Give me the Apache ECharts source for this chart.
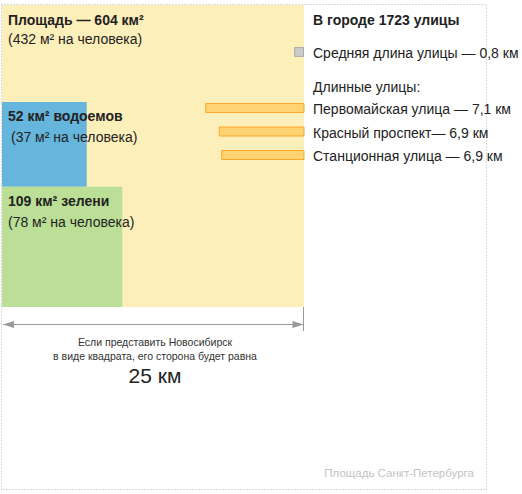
<!DOCTYPE html>
<html>
<head>
<meta charset="utf-8">
<script src="https://cdn.jsdelivr.net/npm/echarts@6/dist/echarts.min.js"></script>
<style>
html, body { margin: 0; padding: 0; background: #fff; }
#chart { width: 522px; height: 494px; }
</style>
</head>
<body>
<div id="chart"></div>
<script>
// площади: город, водоемы, зелень
var zoneNames = ['Площадь', 'водоемов', 'зелени'];
var zoneArea = [604, 52, 109];          // км²
var zonePerPerson = [432, 37, 78];      // м² на человека
var zoneSideKm = [24.6, 6.9, 9.8];      // сторона квадрата на картинке, км
var zoneColors = ['#fdefb9', '#66b5dc', '#bcdf97'];

var spbName = 'Площадь Санкт-Петербурга';
var spbSideKm = 39.5;
var citySide = 25;                      // км, подпись

var streetsTotal = 1723;
var avgStreetKm = 0.8;
var streetNames = ['Первомайская улица —', 'Красный проспект—', 'Станционная улица —'];
var streetKm = [7.1, 6.9, 6.9];
var streetBarKm = [8.0, 6.9, 6.7];      // длина полосы как на картинке

var FONT = '"Liberation Sans", Arial, sans-serif';
var PX = 302 / zoneSideKm[0];           // пикселей на км

// квадраты: город сверху слева, зелень внизу, водоемы над ней
var zoneData = [[0, 0, zoneSideKm[0], zoneSideKm[0]]];
var bottom = zoneSideKm[0];
for (var i = zoneSideKm.length - 1; i >= 1; i--) {
    zoneData[i] = [0, bottom - zoneSideKm[i], zoneSideKm[i], bottom];
    bottom -= zoneSideKm[i];
}

function renderSpb(params, api) {
    var p0 = api.coord([api.value(0), api.value(0)]);
    var p1 = api.coord([api.value(1), api.value(1)]);
    return {
        type: 'group',
        children: [{
            type: 'rect',
            shape: { x: Math.round(p0[0]) + 0.5, y: Math.round(p0[1]) + 0.5, width: Math.round(p1[0] - p0[0]), height: Math.round(p1[1] - p0[1]) },
            style: { fill: 'none', stroke: '#b4b4b4', lineWidth: 1, lineDash: [1, 2] }
        }, {
            type: 'text',
            x: p1[0] - 12, y: p1[1] - 16,
            style: { text: spbName, font: '11.5px ' + FONT, fill: '#c3c3c3', align: 'right', verticalAlign: 'middle' }
        }]
    };
}

function renderZone(params, api) {
    var i = params.dataIndex;
    var p0 = api.coord([api.value(0), api.value(1)]);
    var p1 = api.coord([api.value(2), api.value(3)]);
    var title = i === 0
        ? zoneNames[0] + ' — ' + zoneArea[0] + ' км²'
        : zoneArea[i] + ' км² ' + zoneNames[i];
    return {
        type: 'group',
        children: [{
            type: 'rect',
            shape: { x: p0[0], y: p0[1], width: p1[0] - p0[0], height: p1[1] - p0[1] },
            style: { fill: zoneColors[i] }
        }, {
            type: 'text',
            x: p0[0] + 6, y: p0[1] + 14.5,
            style: { text: title, font: 'bold 14px ' + FONT, fill: '#222', verticalAlign: 'middle' }
        }, {
            type: 'text',
            x: p0[0] + (i === 1 ? 9 : 6), y: p0[1] + (i === 0 ? 34 : 35.5),
            style: { text: '(' + zonePerPerson[i] + ' м² на человека)', font: '14px ' + FONT, fill: '#222', verticalAlign: 'middle' }
        }]
    };
}

function renderStreet(params, api) {
    var i = params.dataIndex;
    var right = api.coord([zoneSideKm[0], 0])[0];
    var left = api.coord([zoneSideKm[0] - api.value(0), 0])[0];
    var y = 108 + i * 23.5;
    return {
        type: 'group',
        children: [{
            type: 'rect',
            shape: { x: left, y: y - 4.5, width: right - left, height: 9 },
            style: { fill: '#ffd372', stroke: '#f8a72c', lineWidth: 1 }
        }, {
            type: 'text',
            x: right + 9, y: y + 1,
            style: { text: streetNames[i] + ' ' + String(streetKm[i]).replace('.', ',') + ' км', font: '14px ' + FONT, fill: '#222', verticalAlign: 'middle' }
        }]
    };
}

function renderAvg(params, api) {
    var right = api.coord([zoneSideKm[0], 0])[0];
    var left = api.coord([zoneSideKm[0] - api.value(0), 0])[0];
    var y = 52;
    var s = right - left;
    return {
        type: 'group',
        children: [{
            type: 'rect',
            shape: { x: left + 0.5, y: y - s / 2 + 0.5, width: s - 1, height: s - 1 },
            style: { fill: '#cbcbcb', stroke: '#a9a9a9', lineWidth: 1 }
        }, {
            type: 'text',
            x: right + 9, y: y + 1,
            style: { text: 'Средняя длина улицы — ' + String(avgStreetKm).replace('.', ',') + ' км', font: '14px ' + FONT, fill: '#222', verticalAlign: 'middle' }
        }, {
            type: 'text',
            x: right + 9, y: 20,
            style: { text: 'В городе ' + streetsTotal + ' улицы', font: 'bold 14px ' + FONT, fill: '#222', verticalAlign: 'middle' }
        }, {
            type: 'text',
            x: right + 9, y: 87,
            style: { text: 'Длинные улицы:', font: '14px ' + FONT, fill: '#222', verticalAlign: 'middle' }
        }]
    };
}

function renderRuler(params, api) {
    var p0 = api.coord([0, zoneSideKm[0]]);
    var p1 = api.coord([zoneSideKm[0], zoneSideKm[0]]);
    var y = Math.round(p0[1] + 17) + 0.5;
    var x0 = p0[0] + 1, x1 = Math.round(p1[0]) - 0.5;
    var cx = (p0[0] + p1[0]) / 2 + 2;
    return {
        type: 'group',
        children: [{
            type: 'line',
            shape: { x1: x0, y1: y, x2: x1, y2: y },
            style: { stroke: '#9a9a9a', lineWidth: 1 }
        }, {
            type: 'line',
            shape: { x1: x1, y1: p1[1], x2: x1, y2: p1[1] + 24 },
            style: { stroke: '#9a9a9a', lineWidth: 1 }
        }, {
            type: 'polygon',
            shape: { points: [[x0, y], [x0 + 11, y - 3.5], [x0 + 11, y + 3.5]] },
            style: { fill: '#9a9a9a' }
        }, {
            type: 'polygon',
            shape: { points: [[x1, y], [x1 - 11, y - 3.5], [x1 - 11, y + 3.5]] },
            style: { fill: '#9a9a9a' }
        }, {
            type: 'text', x: cx, y: y + 17,
            style: { text: 'Если представить Новосибирск', font: '10.5px ' + FONT, fill: '#333', align: 'center', verticalAlign: 'middle' }
        }, {
            type: 'text', x: cx, y: y + 31,
            style: { text: 'в виде квадрата, его сторона будет равна', font: '10.5px ' + FONT, fill: '#333', align: 'center', verticalAlign: 'middle' }
        }, {
            type: 'text', x: cx, y: y + 51,
            style: { text: api.value(0) + ' км', font: '21px ' + FONT, fill: '#222', align: 'center', verticalAlign: 'middle' }
        }]
    };
}

var chart = echarts.init(document.getElementById('chart'), null, { renderer: 'svg' });
chart.setOption({
    animation: false,
    grid: { left: 0, top: 0, width: 522, height: 494 },
    xAxis: { type: 'value', min: -2 / PX, max: 520 / PX, show: false },
    yAxis: { type: 'value', min: -5 / PX, max: 489 / PX, inverse: true, show: false },
    series: [
        { type: 'custom', renderItem: renderSpb, data: [[-1 / PX, spbSideKm - 1 / PX]], z: 1 },
        { type: 'custom', renderItem: renderZone, data: zoneData, z: 2 },
        { type: 'custom', renderItem: renderStreet, data: streetBarKm.map(function (v) { return [v]; }), z: 3 },
        { type: 'custom', renderItem: renderAvg, data: [[avgStreetKm]], z: 3 },
        { type: 'custom', renderItem: renderRuler, data: [[citySide]], z: 3 }
    ]
});
</script>
</body>
</html>
